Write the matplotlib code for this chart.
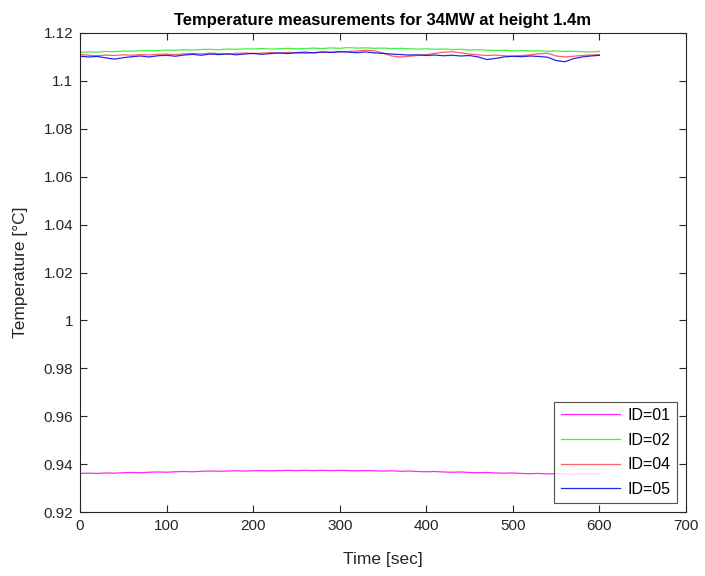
import matplotlib
matplotlib.use("Agg")
import matplotlib.pyplot as plt
import numpy as np

plt.rcParams['font.family'] = ['Liberation Sans', 'DejaVu Sans']

time_sec = list(range(0, 601, 10))

id01 = [0.9361, 0.9362, 0.9361, 0.9363, 0.9362, 0.9364, 0.9365, 0.9364, 0.9366, 0.9367,
        0.9366, 0.9368, 0.9369, 0.9368, 0.9370, 0.9371, 0.9370, 0.9371, 0.9372, 0.9371,
        0.9372, 0.9373, 0.9372, 0.9373, 0.9374, 0.9373, 0.9374, 0.9373, 0.9374, 0.9373,
        0.9374, 0.9373, 0.9372, 0.9373, 0.9372, 0.9371, 0.9372, 0.9370, 0.9371, 0.9369,
        0.9368, 0.9369, 0.9367, 0.9366, 0.9367, 0.9365, 0.9364, 0.9365, 0.9363, 0.9362,
        0.9363, 0.9361, 0.9360, 0.9361, 0.9359, 0.9360, 0.9359, 0.9358, 0.9359, 0.9358,
        0.9359]

id02 = [1.1119, 1.1121, 1.1120, 1.1123, 1.1122, 1.1125, 1.1124, 1.1126, 1.1127, 1.1126,
        1.1129, 1.1128, 1.1130, 1.1129, 1.1131, 1.1132, 1.1130, 1.1133, 1.1132, 1.1134,
        1.1133, 1.1135, 1.1133, 1.1134, 1.1136, 1.1134, 1.1135, 1.1137, 1.1135, 1.1138,
        1.1136, 1.1139, 1.1137, 1.1138, 1.1136, 1.1137, 1.1135, 1.1136, 1.1134, 1.1133,
        1.1134, 1.1132, 1.1133, 1.1131, 1.1132, 1.1129, 1.1130, 1.1128, 1.1127, 1.1128,
        1.1126, 1.1127, 1.1125, 1.1126, 1.1124, 1.1125, 1.1123, 1.1124, 1.1122, 1.1121,
        1.1123]

id04 = [1.1110, 1.1107, 1.1105, 1.1108, 1.1106, 1.1109, 1.1107, 1.1110, 1.1108, 1.1111,
        1.1112, 1.1110, 1.1113, 1.1115, 1.1113, 1.1116, 1.1114, 1.1112, 1.1115, 1.1117,
        1.1114, 1.1116, 1.1118, 1.1116, 1.1119, 1.1117, 1.1115, 1.1118, 1.1120, 1.1119,
        1.1121, 1.1123, 1.1125, 1.1128, 1.1126, 1.1116, 1.1104, 1.1100, 1.1103, 1.1106,
        1.1110, 1.1115, 1.1120, 1.1122, 1.1117, 1.1112, 1.1109, 1.1106, 1.1108, 1.1105,
        1.1103, 1.1106, 1.1109, 1.1113, 1.1116, 1.1104, 1.1100, 1.1103, 1.1106, 1.1108,
        1.1110]

id05 = [1.1103, 1.1100, 1.1102, 1.1096, 1.1091, 1.1097, 1.1101, 1.1104, 1.1100, 1.1105,
        1.1107, 1.1103, 1.1108, 1.1111, 1.1107, 1.1112, 1.1110, 1.1113, 1.1109, 1.1112,
        1.1115, 1.1111, 1.1114, 1.1117, 1.1114, 1.1118, 1.1120, 1.1117, 1.1121, 1.1119,
        1.1122, 1.1120, 1.1118, 1.1121, 1.1117, 1.1115, 1.1112, 1.1110, 1.1108, 1.1109,
        1.1106, 1.1108, 1.1105, 1.1107, 1.1104, 1.1106, 1.1100, 1.1089, 1.1094, 1.1100,
        1.1103, 1.1101, 1.1104, 1.1102, 1.1099, 1.1085, 1.1080, 1.1093, 1.1100, 1.1104,
        1.1107]

labels = ['ID=01', 'ID=02', 'ID=04', 'ID=05']
colors = ['#ff00ff', '#22ee22', '#ff4444', '#0000ee']
series = [id01, id02, id04, id05]

fig = plt.figure(figsize=(7.05, 5.76), dpi=100)
ax = fig.add_axes([80/705, 64/576, 606/705, 479/576])

for s, c, l in zip(series, colors, labels):
    ax.plot(time_sec, s, color=c, lw=0.9, label=l, alpha=0.85)

ax.set_xlim(0, 700)
ax.set_ylim(0.92, 1.12)
ax.set_xticks(np.arange(0, 701, 100))
ax.set_yticks(np.arange(0.92, 1.1201, 0.02))
ax.set_yticklabels(['0.92', '0.94', '0.96', '0.98', '1', '1.02', '1.04', '1.06', '1.08', '1.1', '1.12'])

for sp in ax.spines.values():
    sp.set_color('#262626')
    sp.set_linewidth(0.8)
ax.tick_params(direction='in', top=True, right=True, length=5, width=0.8,
               colors='#262626', labelsize=11, labelcolor='#262626', pad=5)

ax.set_xlabel('Time [sec]', fontsize=12.5, color='#262626', labelpad=14)
ax.set_ylabel('Temperature [°C]', fontsize=12.5, color='#262626', labelpad=11)
ax.set_title('Temperature measurements for 34MW at height 1.4m', fontsize=12,
             fontweight='bold', color='black', pad=6)

leg = ax.legend(loc='lower right', fontsize=11.5, frameon=True, fancybox=False,
                edgecolor='#262626', handlelength=3.7, borderaxespad=0.55,
                labelspacing=0.6, borderpad=0.4, handletextpad=0.5)
leg.get_frame().set_linewidth(0.8)

fig.savefig('out.png', dpi=100)
